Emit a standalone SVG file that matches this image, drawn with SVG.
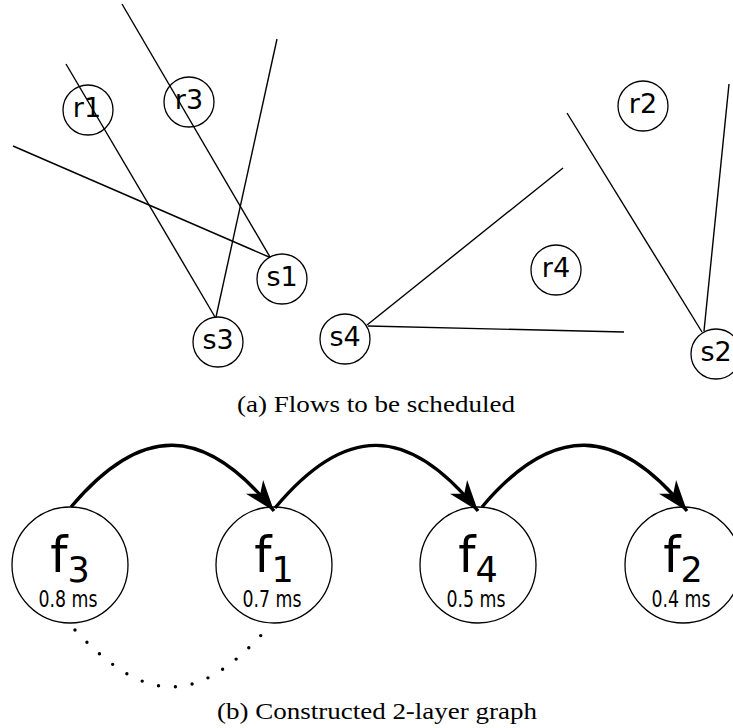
<svg xmlns="http://www.w3.org/2000/svg" width="733" height="728" viewBox="0 0 733 728">
  <style>
    .node circle { fill: none; stroke: #000; stroke-width: 1.3; }
    .lbl { font-family: "DejaVu Sans", Verdana, sans-serif; font-size: 27px; text-anchor: middle; fill: #000; }
    .flow line { stroke: #000; stroke-width: 1.4; }
    .fl { font-family: "DejaVu Sans", Verdana, sans-serif; font-size: 49px; text-anchor: middle; fill: #000; }
    .fl tspan { font-size: 35px; }
    .ms { font-family: "DejaVu Sans", sans-serif; font-size: 23px; text-anchor: middle; fill: #000; }
    .cap { font-family: "Liberation Serif", "Times New Roman", serif; font-size: 23px; text-anchor: middle; fill: #000; }
    .arc { fill: none; stroke: #000; stroke-width: 3.4; }
    .dots { fill: none; stroke: #000; stroke-width: 3.4; stroke-linecap: round; stroke-dasharray: 0 17; }
  </style>
  <defs>
    <!-- swept-back arrowhead for the graph edges -->
    <marker id="stealth" markerUnits="userSpaceOnUse" orient="auto" markerWidth="34" markerHeight="24" refX="32" refY="12" viewBox="0 0 34 24">
      <path d="M32,12 L1,1 L10,12 L1,23 Z" fill="#000"/>
    </marker>
  </defs>

  <!-- (a) flow segments -->
  <g id="connectors-a" class="flow">
    <line x1="66" y1="64" x2="215" y2="317"/>
    <line x1="122" y1="4" x2="270" y2="257"/>
    <line x1="277" y1="39" x2="216" y2="317"/>
    <line x1="13" y1="146" x2="269" y2="257"/>
    <line x1="567" y1="113" x2="702" y2="332"/>
    <line x1="729" y1="84" x2="704" y2="331"/>
    <line x1="367" y1="325" x2="563" y2="168"/>
    <line x1="368" y1="326" x2="624" y2="332"/>
  </g>

  <!-- (a) endpoints: unfilled circles so the segments show through -->
  <g id="r1" class="node"><circle cx="88" cy="110" r="25"/><text class="lbl" x="87" y="117">r1</text></g>
  <g id="r3" class="node"><circle cx="189" cy="102" r="25"/><text class="lbl" x="189" y="109">r3</text></g>
  <g id="r2" class="node"><circle cx="643" cy="106" r="25"/><text class="lbl" x="643" y="113">r2</text></g>
  <g id="r4" class="node"><circle cx="556" cy="270" r="25"/><text class="lbl" x="556" y="277">r4</text></g>
  <g id="s1" class="node"><circle cx="282" cy="279" r="25"/><text class="lbl" x="282" y="286">s1</text></g>
  <g id="s3" class="node"><circle cx="218" cy="342" r="25"/><text class="lbl" x="218" y="349">s3</text></g>
  <g id="s4" class="node"><circle cx="345" cy="339" r="25"/><text class="lbl" x="345" y="346">s4</text></g>
  <g id="s2" class="node"><circle cx="716" cy="354" r="25"/><text class="lbl" x="716" y="361">s2</text></g>

  <text class="cap" x="376" y="412" textLength="278" lengthAdjust="spacingAndGlyphs">(a) Flows to be scheduled</text>

  <!-- (b) graph edges -->
  <g id="connectors-b">
    <path class="arc" d="M71,507 C141,424 204,424 274,511" marker-end="url(#stealth)"/>
    <path class="arc" d="M275,508 C345,424 408,424 478,511" marker-end="url(#stealth)"/>
    <path class="arc" d="M482,507 C552,424 617,424 687,511" marker-end="url(#stealth)"/>
    <path class="dots" d="M75,630 C147,707 200,707 272,623"/>
  </g>

  <g id="f3" class="node"><circle cx="70" cy="565" r="58"/><text class="fl" x="70" y="572">f<tspan dy="10">3</tspan></text><text class="ms" x="68" y="607" textLength="59" lengthAdjust="spacingAndGlyphs">0.8 ms</text></g>
  <g id="f1" class="node"><circle cx="274" cy="565" r="58"/><text class="fl" x="274" y="572">f<tspan dy="10">1</tspan></text><text class="ms" x="272" y="607" textLength="59" lengthAdjust="spacingAndGlyphs">0.7 ms</text></g>
  <g id="f4" class="node"><circle cx="478" cy="565" r="58"/><text class="fl" x="478" y="572">f<tspan dy="10">4</tspan></text><text class="ms" x="476" y="607" textLength="59" lengthAdjust="spacingAndGlyphs">0.5 ms</text></g>
  <g id="f2" class="node"><circle cx="683" cy="565" r="58"/><text class="fl" x="683" y="572">f<tspan dy="10">2</tspan></text><text class="ms" x="681" y="607" textLength="59" lengthAdjust="spacingAndGlyphs">0.4 ms</text></g>

  <text class="cap" x="377" y="719" textLength="320" lengthAdjust="spacingAndGlyphs">(b) Constructed 2-layer graph</text>
</svg>
